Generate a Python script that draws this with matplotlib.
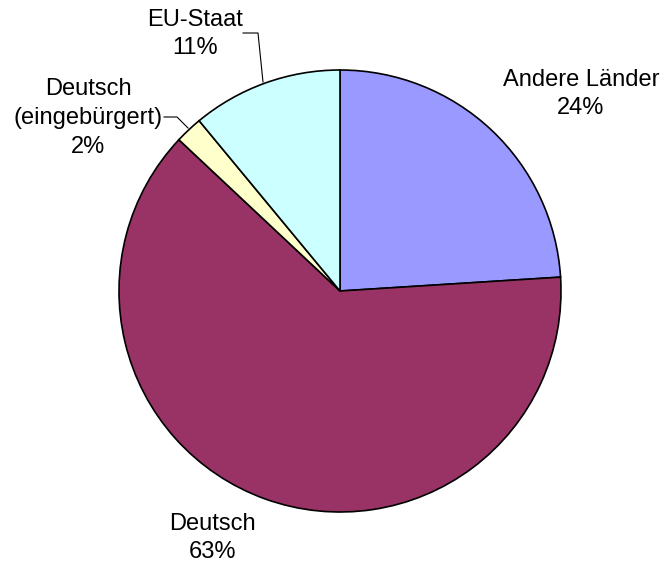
import matplotlib.pyplot as plt

plt.rcParams['font.family'] = ['Liberation Sans', 'DejaVu Sans']

labels = ["Andere Länder", "Deutsch", "Deutsch\n(eingebürgert)", "EU-Staat"]
shares = [24, 63, 2, 11]
colors = ["#9999ff", "#993366", "#ffffcc", "#ccffff"]

W, H = 665, 570
fig = plt.figure(figsize=(W / 100, H / 100), dpi=100)
ax = fig.add_axes([0, 0, 1, 1])

# work in pixel units, y measured from the top
def py(y):
    return H - y

cx, cy, r = 340, 291, 221
ax.pie(shares, colors=colors, startangle=90, counterclock=False,
       radius=r, center=(cx, py(cy)), frame=True,
       wedgeprops=dict(edgecolor="black", linewidth=1.2))
ax.set_xlim(0, W)
ax.set_ylim(0, H)
ax.set_aspect("equal")
ax.axis("off")

pos = [(581, 94), (212, 538), (88, 118), (195, 34)]
for lab, s, (x, y) in zip(labels, shares, pos):
    ax.text(x, py(y), f"{lab}\n{s}%", ha="center", va="center", fontsize=17,
            linespacing=1.4)

# leader lines
ax.plot([243, 258, 263], [py(33), py(33), py(82)], color="black", lw=0.8)
ax.plot([164, 177, 188], [py(117), py(117), py(128)], color="black", lw=0.8)

fig.savefig("out.png", dpi=100)
